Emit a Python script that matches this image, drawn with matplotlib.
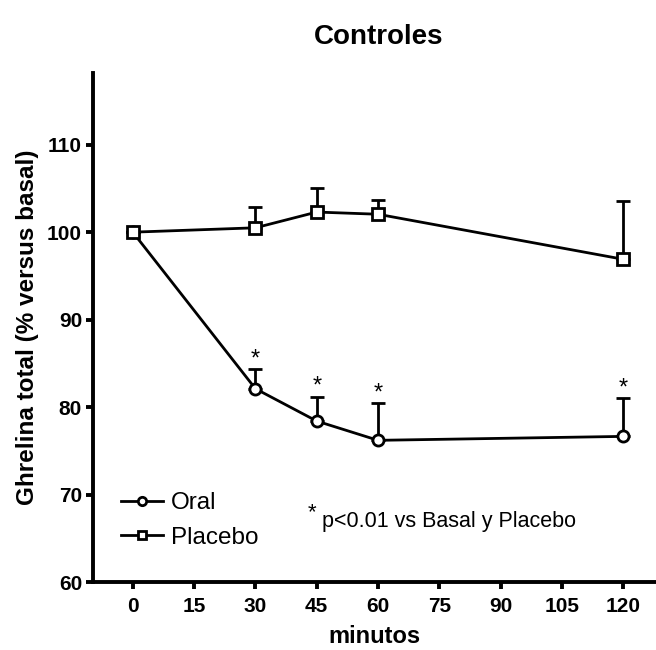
import matplotlib
matplotlib.use("Agg")
import matplotlib.pyplot as plt
from matplotlib.lines import Line2D

plt.rcParams["font.family"] = ["Liberation Sans", "DejaVu Sans"]

# data (mean + upper SEM)
minutes = [0, 30, 45, 60, 120]
oral_mean = [100.0, 82.1, 78.4, 76.2, 76.65]
oral_sem = [0.0, 2.2, 2.8, 4.3, 4.35]
placebo_mean = [100.0, 100.5, 102.3, 102.05, 96.9]
placebo_sem = [0.0, 2.4, 2.8, 1.65, 6.7]
oral_sig = [False, True, True, True, True]
xticks = [0, 15, 30, 45, 60, 75, 90, 105, 120]
yticks = [60, 70, 80, 90, 100, 110]

fig = plt.figure(figsize=(6.56, 6.5), dpi=100)
ax = fig.add_axes([0.142, 0.1046, 0.858, 0.7831])

style = dict(color="black", lw=2.0, mfc="white", mec="black", mew=2.0)
handles = []
for mean, sem, mk, lab in [(oral_mean, oral_sem, "o", "Oral"),
                           (placebo_mean, placebo_sem, "s", "Placebo")]:
    ax.errorbar(minutes, mean, yerr=[[0] * len(sem), sem], marker=mk, ms=8, elinewidth=2.0,
                capsize=5, capthick=2.6, clip_on=False, **style)
    handles.append(Line2D([], [], marker=mk, ms=6, label=lab, **style))

for x, m, s, sig in zip(minutes, oral_mean, oral_sem, oral_sig):  # significance stars
    if sig:
        ax.annotate("*", (x, m + s), xytext=(0, -1), textcoords="offset points",
                    ha="center", va="bottom", fontsize=17)

ax.set_xlim(-9.7, 128)
ax.set_ylim(60, 118.2)
ax.set_xticks(xticks)
ax.set_yticks(yticks)
ax.spines["top"].set_visible(False)
ax.spines["right"].set_visible(False)
for sp in ("left", "bottom"):
    ax.spines[sp].set_linewidth(2.8)
ax.tick_params(width=2.8, length=5, labelsize=15, pad=6)
ax.tick_params(axis="y", pad=3)
for t in ax.get_xticklabels() + ax.get_yticklabels():
    t.set_fontweight("bold")

ax.set_xlabel("minutos", fontsize=17, fontweight="bold", labelpad=6)
ax.set_ylabel("Ghrelina total (% versus basal)", fontsize=17.5, fontweight="bold", labelpad=6)
fig.text(0.577, 0.943, "Controles", ha="center", va="center", fontsize=20, fontweight="bold")

ax.legend(handles=handles, loc="center left", bbox_to_anchor=(0.023, 0.121), frameon=False,
          fontsize=17.5, handlelength=1.75, handletextpad=0.33, labelspacing=0.5,
          borderaxespad=0.3, borderpad=0.3)
ax.text(43.9, 67.9, "*", fontsize=16, ha="center", va="center")
ax.text(46.3, 66.9, "p<0.01 vs Basal y Placebo", fontsize=15.5, ha="left", va="center")

fig.savefig("out.png", dpi=100)
